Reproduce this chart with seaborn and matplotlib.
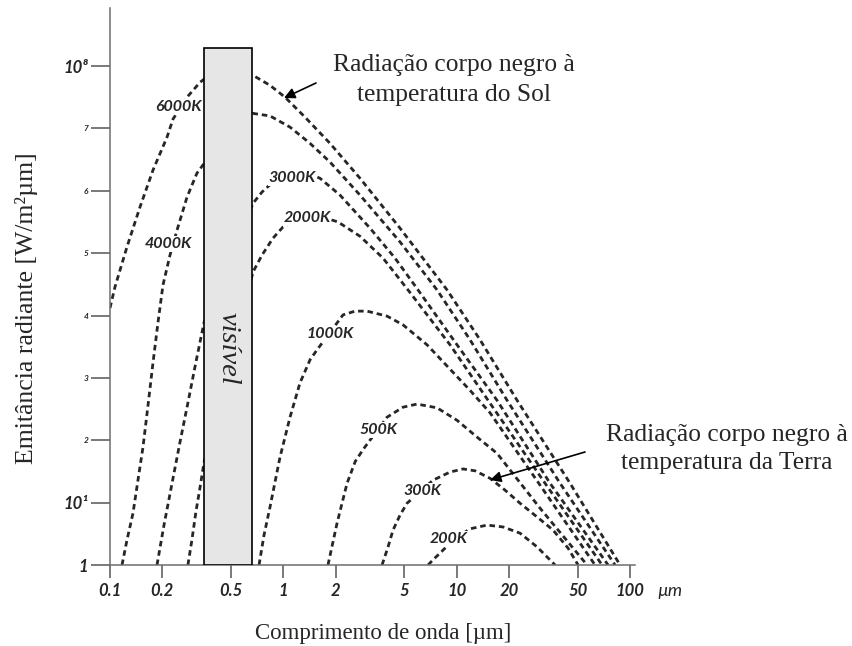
import numpy as np
import pandas as pd
import matplotlib.pyplot as plt
from matplotlib.patches import Rectangle
import seaborn as sns

# Curves: wavelength (um) and log10 of the radiant emittance.
# Each curve is split by the "visível" band, the part behind it is not drawn.
wl_6000 = [0.1, 0.1069, 0.1253, 0.149, 0.177, 0.2133, 0.2311, 0.2783, 0.331, 0.3536,
           0.669, 0.838, 1.023, 1.334, 1.859, 2.770, 4.713, 8.804, 13.65, 22.32, 45.12, 87.67]
log_6000 = [4.12, 4.46, 5.10, 5.74, 6.33, 6.86, 7.15, 7.50, 7.74, 7.80,
            7.85, 7.69, 7.50, 7.18, 6.76, 6.20, 5.40, 4.41, 3.61, 2.64, 1.31, 0.0]

wl_4000 = [0.1173, 0.1253, 0.1357, 0.1450, 0.155, 0.1657, 0.177, 0.1892, 0.2022, 0.222,
           0.2437, 0.2783, 0.3172, 0.3536,
           0.669, 0.838, 1.093, 1.426, 1.859, 2.770, 4.713, 7.708, 11.95, 19.54, 39.51, 82.03]
log_4000 = [0.0, 0.40, 0.83, 1.36, 1.89, 2.56, 3.24, 3.89, 4.49, 4.97,
            5.37, 5.90, 6.28, 6.46,
            7.24, 7.20, 7.02, 6.76, 6.46, 5.93, 5.18, 4.41, 3.61, 2.64, 1.31, 0.0]

wl_3000 = [0.1867, 0.2049, 0.228, 0.253, 0.2815, 0.313, 0.3489,
           0.669, 0.7538, 0.8956, 1.093, 1.334, 1.628, 2.124, 3.164, 4.410, 5.987, 10.05,
           17.10, 34.59, 74.76]
log_3000 = [0.0, 0.64, 1.31, 1.96, 2.60, 3.25, 3.89,
            5.80, 5.98, 6.17, 6.30, 6.30, 6.20, 5.93, 5.40, 4.92, 4.41, 3.53,
            2.64, 1.31, 0.0]

wl_2000 = [0.2815, 0.2968, 0.313, 0.331, 0.3489,
           0.669, 0.7538, 0.8721, 0.996, 1.248, 1.628, 2.068, 2.770, 3.761, 5.241, 9.160,
           15.18, 32.37, 69.03]
log_2000 = [0.0, 0.40, 0.85, 1.25, 1.65,
            4.70, 4.97, 5.24, 5.42, 5.56, 5.59, 5.50, 5.27, 4.92, 4.41, 3.53,
            2.64, 1.31, 0.0]

wl_1000 = [0.7243, 0.7737, 0.838, 0.957, 1.093, 1.248, 1.426, 1.5653, 2.2105, 2.5927,
           3.0406, 3.967, 4.905, 6.750, 8.804, 11.95, 15.58, 30.29, 62.89]
log_1000 = [0.0, 0.48, 0.93, 1.73, 2.37, 2.92, 3.29, 3.45, 4.01, 4.07,
            4.07, 3.99, 3.85, 3.53, 3.19, 2.80, 2.44, 1.28, 0.0]

wl_500 = [1.810, 2.041, 2.3315, 2.60, 2.90, 3.967, 4.905, 5.909, 7.708, 10.05,
          13.12, 17.10, 30.29, 56.55]
log_500 = [0.0, 0.67, 1.31, 1.66, 1.86, 2.37, 2.53, 2.58, 2.52, 2.32,
           2.05, 1.79, 0.91, 0.0]

wl_300 = [3.7116, 4.020, 4.295, 4.713, 5.173, 7.308, 9.160, 10.89, 12.77, 15.58,
          19.02, 23.22, 29.11, 36.00, 43.95, 50.19]
log_300 = [0.0, 0.29, 0.56, 0.80, 0.99, 1.36, 1.49, 1.54, 1.51, 1.39,
           1.20, 0.99, 0.77, 0.56, 0.27, 0.0]

wl_200 = [6.840, 7.406, 8.020, 9.533, 11.95, 14.98, 18.52, 23.22, 29.11, 36.97]
log_200 = [0.0, 0.10, 0.19, 0.40, 0.58, 0.64, 0.61, 0.51, 0.29, 0.0]

temps = ['6000K', '4000K', '3000K', '2000K', '1000K', '500K', '300K', '200K']
curves = [(wl_6000, log_6000), (wl_4000, log_4000), (wl_3000, log_3000), (wl_2000, log_2000),
          (wl_1000, log_1000), (wl_500, log_500), (wl_300, log_300), (wl_200, log_200)]

# visible band (um) and its top (log10)
vis_band = [0.349, 0.657]
vis_top = 8.285

xticks = [0.1, 0.2, 0.5, 1, 2, 5, 10, 20, 50, 100]
xtick_labels = ['0.1', '0.2', '0.5', '1', '2', '5', '10', '20', '50', '100']
yticks = [1e0, 1e1, 1e2, 1e3, 1e4, 1e5, 1e6, 1e7, 1e8]
ytick_labels = ['1', '10¹', '2', '3', '4', '5', '6', '7', '10⁸']

rows = []
for t, (wl, lg) in zip(temps, curves):
    for w, l in zip(wl, lg):
        rows.append({'temp': t, 'wl': w, 'emit': 10 ** l})
df = pd.DataFrame(rows)

sns.set_style('white')
plt.rcParams['font.family'] = ['Lato', 'DejaVu Sans']

W, H = 852, 646
fig = plt.figure(figsize=(W / 100, H / 100), dpi=100)
ax = fig.add_axes([110 / W, 1 - 565 / H, 525 / W, 557 / H])
ax.set_xscale('log')
ax.set_yscale('log')

for t in temps:
    sns.lineplot(data=df[df['temp'] == t], x='wl', y='emit', ax=ax, color='#262626',
                 lw=2.0, linestyle=(0, (2.0, 1.4)), sort=False, estimator=None, zorder=2)

ax.add_patch(Rectangle((vis_band[0], 1), vis_band[1] - vis_band[0], 10 ** vis_top - 1,
                       facecolor='#e6e6e6', edgecolor='black', lw=1.2, zorder=3))

ax.set_xlim(0.1, 106.9)
ax.set_ylim(1, 10 ** 8.93)
ax.set_xlabel('')
ax.set_ylabel('')
sns.despine(ax=ax)
for s in ['left', 'bottom']:
    ax.spines[s].set_color('#6e6e6e')
    ax.spines[s].set_linewidth(1.1)

ax.set_xticks(xticks)
ax.set_xticklabels(xtick_labels)
ax.xaxis.set_minor_locator(plt.NullLocator())
ax.set_yticks(yticks)
ax.set_yticklabels(ytick_labels)
ax.yaxis.set_minor_locator(plt.NullLocator())
ax.tick_params(axis='x', direction='out', length=9, width=1.1, color='#555555', pad=4,
               bottom=True)
ax.tick_params(axis='y', direction='out', length=14, width=1.1, color='#555555', pad=1.5,
               left=True)
for lab in ax.get_xticklabels():
    lab.set_fontsize(12)
    lab.set_fontweight('bold')
    lab.set_fontstyle('italic')
for lab in ax.get_yticklabels():
    big = lab.get_text() in ('1', '10¹', '10⁸')
    lab.set_fontsize(12 if big else 6)
    lab.set_fontweight('bold')
    lab.set_fontstyle('italic')


def fxy(px, py):
    return px / W, 1 - py / H


serif = 'Liberation Serif'
fig.text(*fxy(27, 308), 'Emitância radiante [W/m²µm]', rotation=90, ha='center', va='center',
         fontsize=18.5, family=serif)
fig.text(*fxy(383, 633), 'Comprimento de onda [µm]', ha='center', va='center',
         fontsize=16.5, family=serif)
fig.text(*fxy(670, 591), 'µm', ha='center', va='center', fontsize=13, fontstyle='italic')
fig.text(*fxy(228, 348), 'visível', rotation=270, ha='center', va='center',
         fontsize=20.5, family=serif, fontstyle='italic')

label_pos = {'6000K': (178, 107), '4000K': (168, 244), '3000K': (292, 178),
             '2000K': (307, 218), '1000K': (330, 334), '500K': (378, 430),
             '300K': (422, 491), '200K': (449, 539)}
for t, (px, py) in label_pos.items():
    fig.text(*fxy(px, py), t, ha='center', va='center', fontsize=11.5, fontweight='bold',
             fontstyle='italic', bbox=dict(facecolor='white', edgecolor='none', pad=0.6))

fig.text(*fxy(454, 80), 'Radiação corpo negro à\ntemperatura do Sol', ha='center',
         va='center', fontsize=18.4, family=serif, linespacing=1.45)
fig.text(*fxy(727, 449), 'Radiação corpo negro à\ntemperatura da Terra', ha='center',
         va='center', fontsize=18.4, family=serif, linespacing=1.3)

arrow = dict(arrowstyle='-|>', color='black', lw=1.2, mutation_scale=16, shrinkA=0, shrinkB=0)
ax.annotate('', xy=fxy(284, 98), xytext=fxy(316, 83), xycoords='figure fraction',
            textcoords='figure fraction', arrowprops=arrow)
ax.annotate('', xy=fxy(490, 480), xytext=fxy(585, 452), xycoords='figure fraction',
            textcoords='figure fraction', arrowprops=arrow)

fig.savefig('out.png', dpi=100)
